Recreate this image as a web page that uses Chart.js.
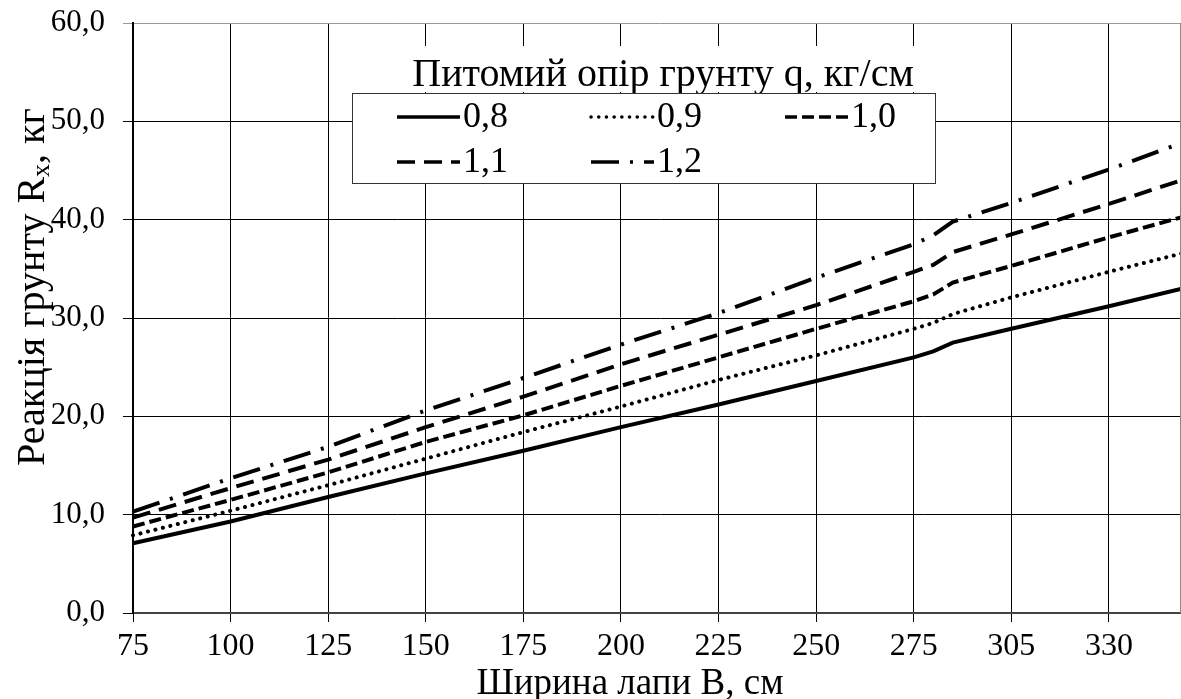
<!DOCTYPE html>
<html>
<head>
<meta charset="utf-8">
<script src="https://cdn.jsdelivr.net/npm/chart.js@4/dist/chart.umd.min.js"></script>
<style>
  html, body { margin: 0; background: #fff; overflow: hidden; }
  #wrap { width: 1181px; height: 699px; overflow: hidden; }
</style>
</head>
<body>
<div id="wrap"><canvas id="myChart" width="1187" height="699"></canvas></div>
<script>
// categories of the x axis (width of the share, cm)
const categories = ['75', '80', '85', '90', '95', '100', '105', '110', '115', '120',
    '125', '130', '135', '140', '145', '150', '155', '160', '165', '170',
    '175', '180', '185', '190', '195', '200', '205', '210', '215', '220',
    '225', '230', '235', '240', '245', '250', '255', '260', '265', '270',
    '275', '280', '290', '295', '300', '305', '310', '315', '320', '325',
    '330', '335', '340', '345', '350'];
const tickLabels = ['75', '100', '125', '150', '175', '200', '225', '250', '275', '305', '330'];

const readWidths = ['75', '100', '125', '150', '175', '200', '225', '250', '275', '280', '290', '305', '330', '350'];
const q08 = [7.1, 9.3, 11.8, 14.2, 16.5, 18.9, 21.2, 23.6, 26.0, 26.6, 27.5, 28.9, 31.2, 33.1];
const q09 = [7.9, 10.4, 13.0, 15.7, 18.4, 21.0, 23.7, 26.2, 28.9, 29.5, 30.4, 32.1, 34.7, 36.7];
const q10 = [8.8, 11.5, 14.3, 17.4, 20.1, 23.1, 26.0, 28.9, 31.7, 32.4, 33.6, 35.3, 38.2, 40.4];
const q11 = [9.7, 12.7, 15.6, 18.9, 22.0, 25.3, 28.3, 31.3, 34.7, 35.4, 36.7, 38.5, 41.6, 44.2];
const q12 = [10.3, 13.7, 16.9, 20.6, 23.9, 27.3, 30.5, 34.1, 37.5, 38.4, 39.8, 41.7, 45.1, 48.0];

const seriesNames = ['0,8', '0,9', '1,0', '1,1', '1,2'];
const seriesValues = [q08, q09, q10, q11, q12];
const seriesDash = [[], [0.1, 7.6], [12, 5], [18, 9], [28, 11, 3, 11]];
const seriesCap = ['butt', 'round', 'butt', 'butt', 'butt'];

const legendTitle = 'Питомий опір грунту q, кг/см';
const xTitle = 'Ширина лапи В, см';

const serif = "'Liberation Serif', 'Times New Roman', serif";

const datasets = seriesNames.map((name, s) => ({
    label: name,
    data: readWidths.map((b, i) => ({ x: b, y: seriesValues[s][i] })),
    borderColor: '#000',
    borderWidth: 4,
    borderDash: seriesDash[s],
    borderCapStyle: seriesCap[s],
    pointRadius: 0,
    pointBorderWidth: 0,
    fill: false,
    tension: 0
}));

const decor = {
    id: 'decor',
    afterDraw(chart) {
        const ctx = chart.ctx;
        const area = chart.chartArea;
        ctx.save();

        // right border of the plot, at the picture edge
        ctx.strokeStyle = '#888';
        ctx.lineWidth = 1;
        ctx.beginPath();
        ctx.moveTo(1180.5, area.top);
        ctx.lineTo(1180.5, area.bottom);
        ctx.stroke();

        ctx.fillStyle = '#000';

        // y axis title with subscript
        ctx.save();
        ctx.translate(33, 287);
        ctx.rotate(-Math.PI / 2);
        const big = '40px ' + serif, small = '26px ' + serif;
        ctx.font = big;
        const p1 = 'Реакція грунту R', p3 = ', кг';
        const w1 = ctx.measureText(p1).width, w3 = ctx.measureText(p3).width;
        ctx.font = small;
        const w2 = ctx.measureText('x').width;
        let x = -(w1 + w2 + w3) / 2;
        ctx.textBaseline = 'middle';
        ctx.font = big;
        ctx.fillText(p1, x, 0);
        ctx.font = small;
        ctx.fillText('x', x + w1, 9);
        ctx.font = big;
        ctx.fillText(p3, x + w1 + w2, 0);
        ctx.restore();

        // x axis title
        ctx.font = '37px ' + serif;
        ctx.textAlign = 'center';
        ctx.textBaseline = 'alphabetic';
        ctx.fillText(xTitle, 630, 694);

        // legend title on white background
        ctx.font = '40px ' + serif;
        ctx.fillStyle = '#fff';
        ctx.fillRect(404, 46, 516, 46);
        ctx.fillStyle = '#000';
        ctx.fillText(legendTitle, 663, 86);

        // legend box
        ctx.fillStyle = '#fff';
        ctx.fillRect(352, 93, 583, 90);
        ctx.strokeStyle = '#333';
        ctx.lineWidth = 1;
        ctx.strokeRect(352.5, 93.5, 583, 90);

        const cols = [397, 591, 785];
        const rows = [117, 162];
        ctx.font = '36px ' + serif;
        ctx.textAlign = 'left';
        ctx.textBaseline = 'middle';
        chart.data.datasets.forEach((ds, i) => {
            const lx = cols[i % 3], ly = rows[Math.floor(i / 3)];
            ctx.beginPath();
            ctx.strokeStyle = '#000';
            ctx.lineWidth = 3.5;
            ctx.lineCap = ds.borderCapStyle;
            ctx.setLineDash(ds.borderDash);
            ctx.moveTo(lx, ly);
            ctx.lineTo(lx + 63, ly);
            ctx.stroke();
            ctx.setLineDash([]);
            ctx.fillStyle = '#000';
            ctx.fillText(ds.label, lx + 66, ly + 1);
        });
        ctx.restore();
    }
};

const ctx = document.getElementById('myChart').getContext('2d');
const myChart = new Chart(ctx, {
    type: 'line',
    data: { labels: categories, datasets: datasets },
    options: {
        responsive: false,
        animation: false,
        layout: { autoPadding: false, padding: { top: 23, right: 0, left: 0, bottom: 0 } },
        plugins: { legend: { display: false }, tooltip: { enabled: false }, title: { display: false } },
        scales: {
            x: {
                type: 'category',
                offset: false,
                afterFit: (s) => { s.height = 86; s.paddingRight = 0; s.paddingLeft = 0; },
                grid: {
                    color: (c) => c.index % 5 === 0 ? '#000' : 'rgba(0,0,0,0)',
                    tickColor: (c) => c.index % 5 === 0 ? '#000' : 'rgba(0,0,0,0)',
                    lineWidth: 1,
                    tickLength: 9
                },
                border: { color: '#444', width: 2 },
                ticks: {
                    autoSkip: false,
                    maxRotation: 0,
                    padding: 5,
                    color: '#000',
                    font: { family: serif, size: 32 },
                    callback: (v, i) => i % 5 === 0 ? tickLabels[i / 5] : ''
                }
            },
            y: {
                min: 0,
                max: 60,
                afterFit: (s) => { s.width = 133; s.paddingTop = 0; s.paddingBottom = 0; },
                grid: {
                    color: (c) => c.tick && c.tick.value === 60 ? '#999' : '#000',
                    lineWidth: 1,
                    tickLength: 10
                },
                border: { color: '#000', width: 2 },
                ticks: {
                    stepSize: 10,
                    padding: 18,
                    color: '#000',
                    font: { family: serif, size: 31 },
                    callback: (v) => v.toFixed(1).replace('.', ',')
                }
            }
        }
    },
    plugins: [decor]
});
</script>
</body>
</html>
